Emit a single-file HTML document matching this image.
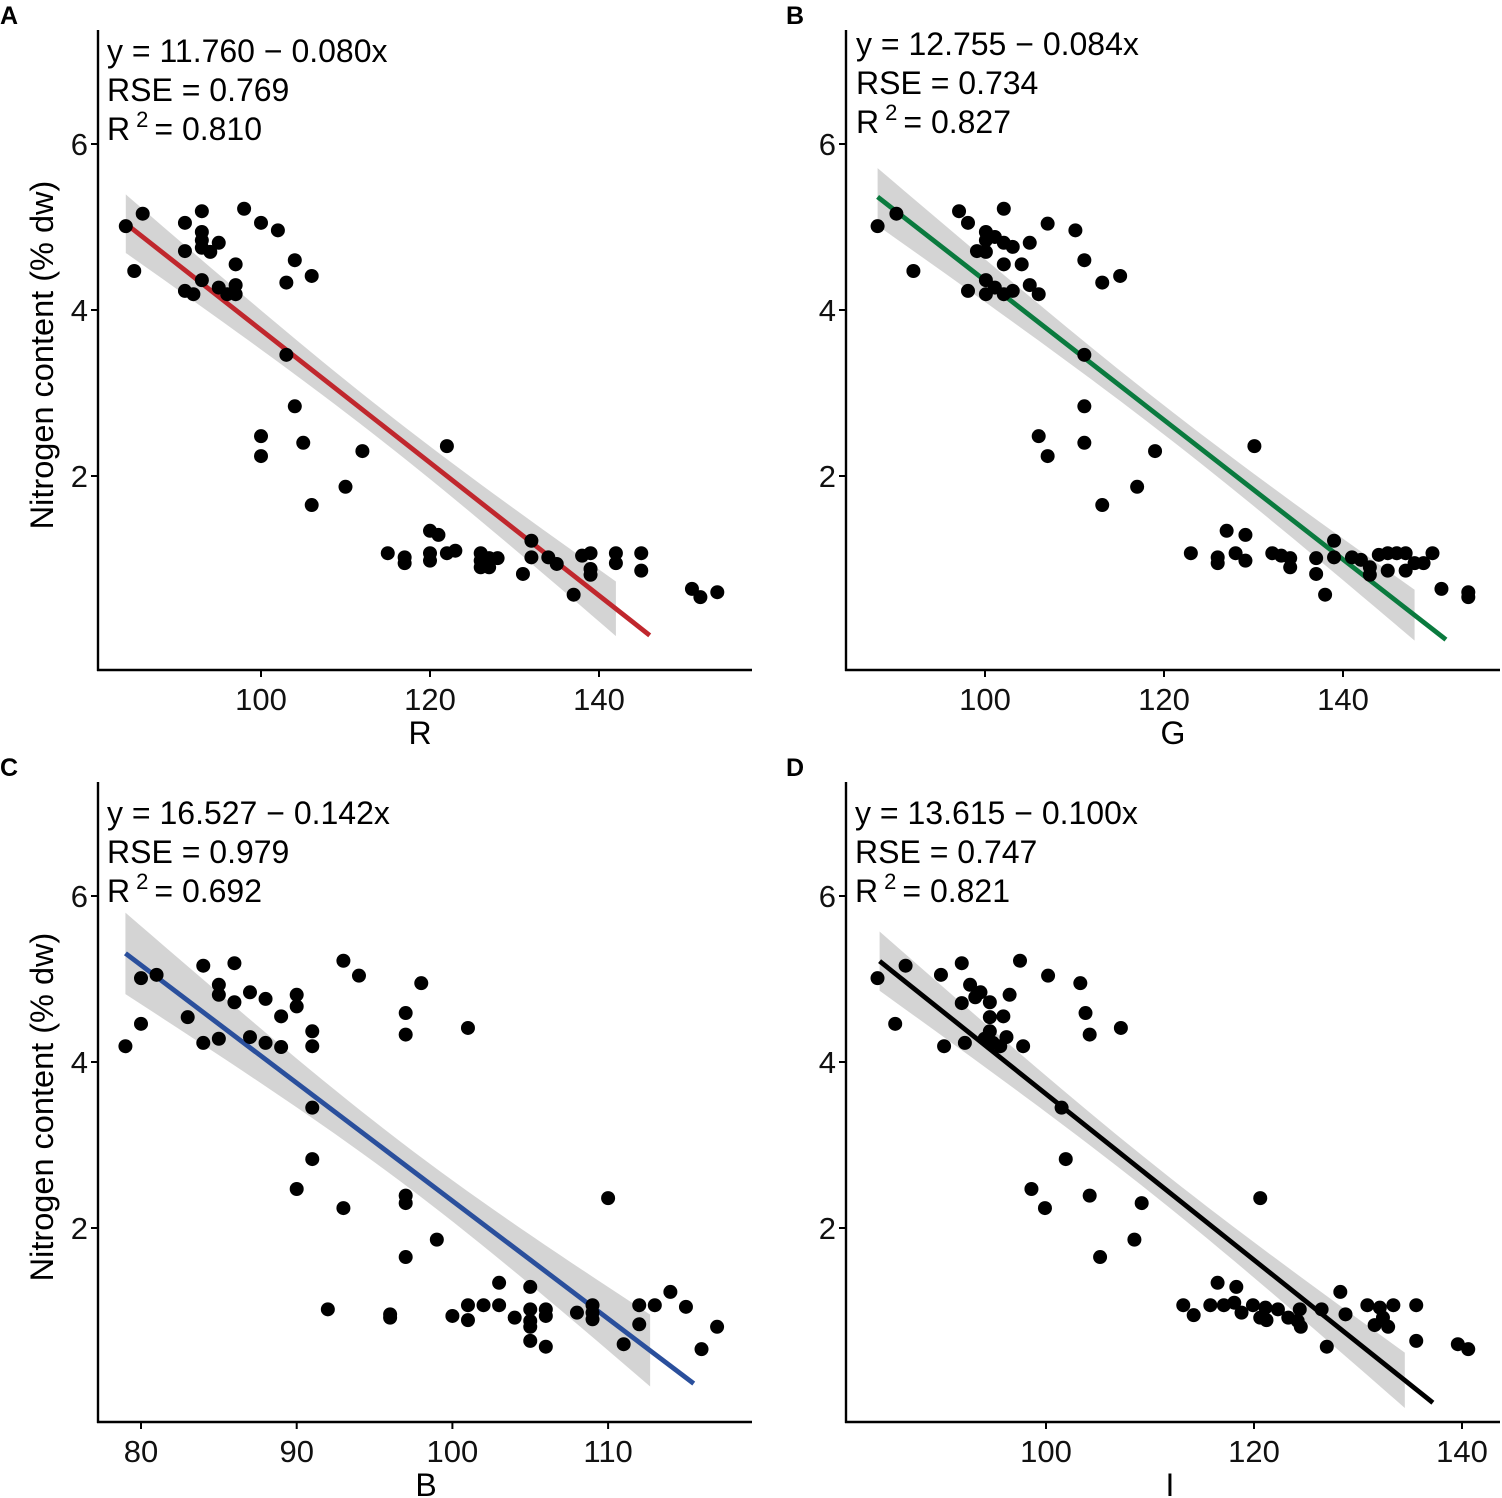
<!DOCTYPE html>
<html><head><meta charset="utf-8"><style>
html,body{margin:0;padding:0;background:#fff}
svg{display:block;font-family:"Liberation Sans",Arial,sans-serif}
</style></head><body>
<svg id="chart" width="1502" height="1498" viewBox="0 0 1502 1498" xmlns="http://www.w3.org/2000/svg"></svg>
<script>
// ---- data ----
const nitrogenA = [5.01,5.16,4.47,5.05,4.71,4.23,4.19,5.19,4.94,4.84,4.75,4.70,4.81,4.36,4.27,4.19,4.30,4.19,4.55,5.22,5.05,4.96,4.60,4.41,4.33,3.46,2.84,2.40,2.48,2.24,1.65,1.87,2.30,2.36,1.07,1.02,0.95,1.34,1.29,1.07,0.98,1.07,1.10,1.07,0.98,0.90,1.01,0.90,1.01,0.82,1.22,1.02,1.02,0.94,0.57,1.04,1.07,0.88,0.81,1.07,0.95,1.07,0.86,0.64,0.54,0.60];
const valuesR = [84,86,85,91,91,91,92,93,93,93,93,94,95,93,95,96,97,97,97,98,100,102,104,106,103,103,104,105,100,100,106,110,112,122,115,117,117,120,121,120,120,122,123,126,126,126,127,127,128,131,132,132,134,135,137,138,139,139,139,142,142,145,145,151,152,154];
const nitrogenB = [5.01,5.16,4.47,5.19,5.05,4.71,4.23,4.94,4.84,4.70,4.36,4.19,4.88,4.27,5.22,4.81,4.55,4.19,4.76,4.23,4.55,4.81,4.30,4.19,5.04,4.96,4.60,4.33,4.41,3.46,2.84,2.40,2.48,2.24,1.65,1.87,2.30,2.36,1.07,1.02,0.95,1.34,1.29,1.07,0.98,1.07,1.04,1.01,0.90,1.01,0.82,0.57,1.22,1.02,1.02,0.99,0.90,0.81,1.05,1.07,0.86,1.07,1.07,0.86,0.95,0.95,1.07,0.64,0.60,0.54];
const valuesG = [88,90.1,92,97.1,98.1,99.1,98.1,100.1,100.1,100.1,100.1,100.1,101.1,101.1,102.1,102.1,102.1,102.1,103.1,103.1,104.1,105,105,106,107,110.1,111.1,113.1,115.1,111.1,111.1,111.1,106,107,113.1,117,119,130.1,123,126,126,127,129.1,128,129.1,132.1,133.1,134.1,134.1,137,137,138,139,139,141,142,143,143,144,145,145,146,147,147,148,149,150,151,154,154];
const nitrogenC = [4.19,5.01,4.46,5.05,4.54,5.16,4.23,4.93,4.81,4.28,5.19,4.72,4.84,4.30,4.76,4.23,4.55,4.18,4.81,4.67,4.37,4.19,5.22,5.04,4.59,4.33,4.95,4.41,3.45,2.83,2.47,2.24,2.39,2.30,1.65,1.86,2.36,1.02,0.96,0.92,0.94,1.07,0.89,1.07,1.34,1.07,0.92,1.29,1.02,0.88,0.81,0.64,1.02,0.94,0.57,0.98,1.07,0.98,0.90,0.60,1.07,0.84,1.07,1.23,1.05,0.54,0.81];
const valuesB = [79,80,80,81,83,84,84,85,85,85,86,86,87,87,88,88,89,89,90,90,91,91,93,94,97,97,98,101,91,91,90,93,97,97,97,99,110,92,96,96,100,101,101,102,103,103,104,105,105,105,105,105,106,106,106,108,109,109,109,111,112,112,113,114,115,116,117];
const nitrogenD = [5.01,4.46,5.16,5.05,4.19,5.19,4.71,4.23,4.93,4.78,4.84,4.28,4.72,4.54,4.37,4.23,4.19,4.55,4.30,4.81,5.22,4.19,5.04,4.95,4.59,4.33,4.41,3.45,2.83,2.47,2.24,2.39,1.65,1.86,2.30,2.36,1.07,0.95,1.07,1.34,1.07,1.10,1.29,0.98,1.07,0.92,1.04,0.89,1.02,0.92,0.88,1.02,0.81,1.02,0.57,1.23,0.96,1.07,0.83,1.04,0.92,0.81,1.07,1.07,0.64,0.60,0.54];
const valuesI = [83.8,85.5,86.5,89.9,90.2,91.9,91.9,92.2,92.7,93.2,93.7,94.1,94.6,94.6,94.6,94.9,95.6,95.9,96.2,96.5,97.5,97.8,100.2,103.3,103.8,104.2,107.2,101.5,101.9,98.6,99.9,104.2,105.2,108.5,109.2,120.6,113.2,114.2,115.8,116.5,117.1,118.1,118.3,118.8,119.9,120.6,121.1,121.2,122.3,123.3,124.2,124.4,124.5,126.5,127,128.3,128.8,130.9,131.6,132.1,132.4,132.9,133.4,135.6,135.6,139.6,140.6];
const intercepts = [11.760, 12.755, 16.527, 13.615];
const slopes = [-0.080, -0.084, -0.142, -0.100];
const rseValues = [0.769, 0.734, 0.979, 0.747];
const r2Values = [0.810, 0.827, 0.692, 0.821];
const lineRanges = [[84,146],[88,151.5],[79,115.5],[84,137.2]];
const bandRanges = [[84,142],[88,148],[79,112.7],[84,134.5]];
const xTicksA = [100,120,140], xTicksB = [100,120,140], xTicksC = [80,90,100,110], xTicksD = [100,120,140];
const yTicks = [2,4,6];
const panelLetters = ['A','B','C','D'];
const xTitles = ['R','G','B','I'];

// ---- layout (pixels) ----
const NS='http://www.w3.org/2000/svg';
const svg=document.getElementById('chart');
const panels=[
 {x0:98,x1:752,yAx:670,yTop:30,y0px:642,ppu:83,xa:100,xapx:261,xppu:8.45,col:'#c0272d',xs:valuesR,ys:nitrogenA,ticks:xTicksA,ann:[107,62],lx:0,ly:24,tx:420,ty:744,ytitle:true},
 {x0:846,x1:1500,yAx:670,yTop:30,y0px:642,ppu:83,xa:100,xapx:985,xppu:8.95,col:'#0a7a3e',xs:valuesG,ys:nitrogenB,ticks:xTicksB,ann:[856,55],lx:786,ly:24,tx:1173,ty:744,ytitle:false},
 {x0:98,x1:752,yAx:1422,yTop:782,y0px:1394,ppu:83,xa:80,xapx:141,xppu:15.57,col:'#2a4f9c',xs:valuesB,ys:nitrogenC,ticks:xTicksC,ann:[107,824],lx:0,ly:776,tx:426,ty:1496,ytitle:true},
 {x0:846,x1:1500,yAx:1422,yTop:782,y0px:1394,ppu:83,xa:100,xapx:1046,xppu:10.4,col:'#000000',xs:valuesI,ys:nitrogenD,ticks:xTicksD,ann:[855,824],lx:786,ly:776,tx:1170,ty:1496,ytitle:false}
];
function mk(tag,attrs,parent){const e=document.createElementNS(NS,tag);for(const k in attrs)e.setAttribute(k,attrs[k]);(parent||svg).appendChild(e);return e;}

panels.forEach((p,i)=>{
  const g=mk('g',{});
  
  
  const X=v=>p.xapx+(v-p.xa)*p.xppu;
  const Y=v=>p.y0px-v*p.ppu;
  const n=p.xs.length;
  const mean=p.xs.reduce((a,b)=>a+b,0)/n;
  const sxx=p.xs.reduce((a,b)=>a+(b-mean)*(b-mean),0);
  const hw=x=>2.0*rseValues[i]*Math.sqrt(1/n+(x-mean)*(x-mean)/sxx);
  const fit=x=>intercepts[i]+slopes[i]*x;
  const [b0,b1]=bandRanges[i];
  const up=[],lo=[];
  for(let k=0;k<=40;k++){const x=b0+(b1-b0)*k/40;up.push(X(x)+','+Y(fit(x)+hw(x)));lo.unshift(X(x)+','+Y(fit(x)-hw(x)));}
  const band=mk('polygon',{points:up.concat(lo).join(' '),fill:'#d4d4d4'},g);
  
  
  const [l0,l1]=lineRanges[i];
  const ln=mk('line',{x1:X(l0),y1:Y(fit(l0)),x2:X(l1),y2:Y(fit(l1)),stroke:p.col,'stroke-width':4.8},g);
  
  
  p.xs.forEach((xv,j)=>{
    const c=mk('circle',{cx:X(xv),cy:Y(p.ys[j]),r:7,fill:'#000'},g);
    
    
  });
  const ya=mk('line',{x1:p.x0,y1:p.yTop,x2:p.x0,y2:p.yAx+1,stroke:'#000','stroke-width':2.4},g);
  
  
  const xa=mk('line',{x1:p.x0-1,y1:p.yAx,x2:p.x1,y2:p.yAx,stroke:'#000','stroke-width':2.4},g);
  
  
  yTicks.forEach(t=>{
    mk('line',{x1:p.x0-7,y1:Y(t),x2:p.x0,y2:Y(t),stroke:'#000','stroke-width':2},g);
    const tl=mk('text',{x:p.x0-10,y:Y(t)+11,'font-size':31,'text-anchor':'end',fill:'#111'},g);
    tl.textContent=t;
    
    
  });
  p.ticks.forEach(t=>{
    mk('line',{x1:X(t),y1:p.yAx,x2:X(t),y2:p.yAx+7,stroke:'#000','stroke-width':2},g);
    const tl=mk('text',{x:X(t),y:p.yAx+40,'font-size':31,'text-anchor':'middle',fill:'#111'},g);
    tl.textContent=t;
    
    
  });
  const xt=mk('text',{x:p.tx,y:p.ty,'font-size':32,'text-anchor':'middle',fill:'#000'},g);
  xt.textContent=xTitles[i];
  
  
  if(p.ytitle){
    const cy=(p.yTop+p.yAx)/2+5;
    const yt=mk('text',{x:0,y:0,'font-size':32.5,'text-anchor':'middle',fill:'#000',transform:'translate(53,'+cy+') rotate(-90)'},g);
    yt.textContent='Nitrogen content (% dw)';
    
    
  }
  const lt=mk('text',{x:p.lx,y:p.ly,'font-size':25,'font-weight':'bold',fill:'#000'},g);
  lt.textContent=panelLetters[i];
  
  
  const [ax,ay]=p.ann;
  const e1=mk('text',{x:ax,y:ay,'font-size':32,fill:'#000'},g);
  e1.textContent='y = '+intercepts[i].toFixed(3)+' \u2212 '+Math.abs(slopes[i]).toFixed(3)+'x';
  
  
  const e2=mk('text',{x:ax,y:ay+39,'font-size':32,fill:'#000'},g);
  e2.textContent='RSE = '+rseValues[i].toFixed(3);
  
  
  const e3=mk('text',{x:ax,y:ay+78,'font-size':32,fill:'#000'},g);
  
  
  const s1=mk('tspan',{},e3);s1.textContent='R';
  const s2=mk('tspan',{dx:6,dy:-13,'font-size':22},e3);s2.textContent='2';
  const s3=mk('tspan',{dx:6,dy:13},e3);s3.textContent='= '+r2Values[i].toFixed(3);
});
</script>
</body></html>
